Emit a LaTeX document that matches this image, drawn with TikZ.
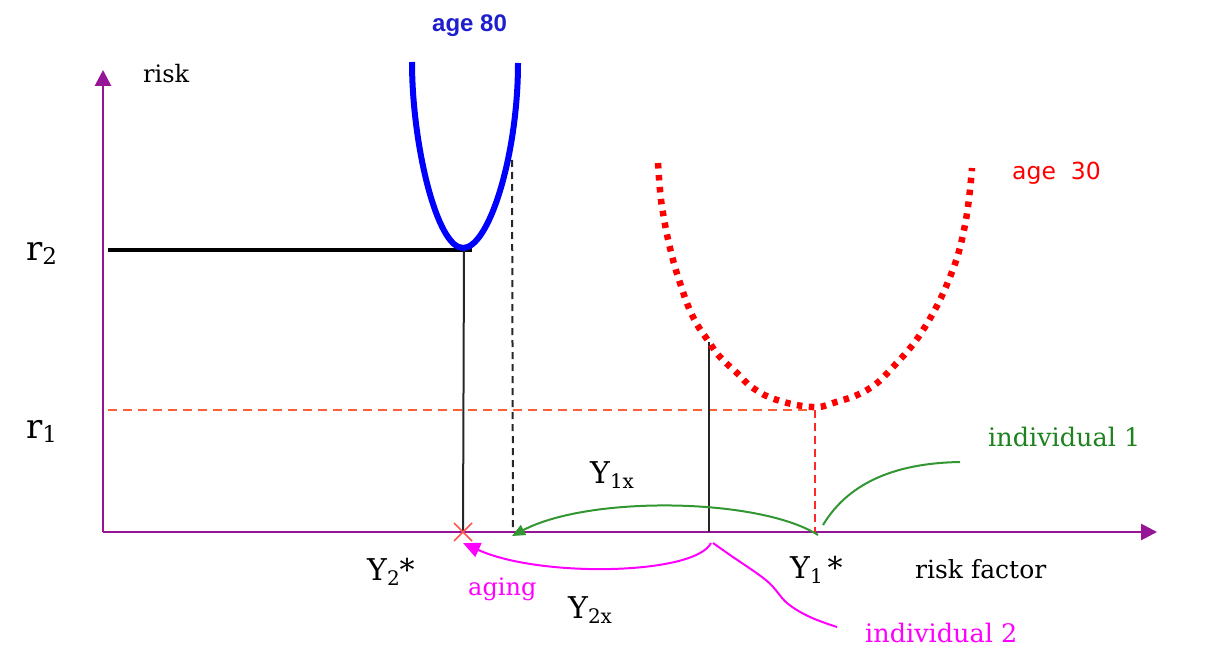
\documentclass[tikz,border=0pt]{standalone}
\usepackage{fontspec}
\setmainfont{DejaVu Serif}
\newfontfamily\labsans{Liberation Sans}
\newfontfamily\dsans{DejaVu Sans}
\usetikzlibrary{arrows.meta}
\definecolor{axispurple}{RGB}{150,20,150}
\definecolor{curveblue}{RGB}{0,0,255}
\definecolor{textblue}{RGB}{30,30,205}
\definecolor{dotred}{RGB}{255,0,0}
\definecolor{dashorange}{RGB}{255,95,55}
\definecolor{dashred}{RGB}{255,40,40}
\definecolor{arcgreen}{RGB}{50,150,50}
\definecolor{textgreen}{RGB}{30,130,30}
\definecolor{pinkmag}{RGB}{255,0,255}
\definecolor{crossred}{RGB}{255,85,80}
\tikzset{
  axisline/.style={draw=axispurple,line width=2.8pt,-{Triangle[length=16pt,width=16pt]}},
  lbl/.style={inner sep=0pt,anchor=base west},
  thinblack/.style={draw=black!85,line width=2pt},
  greenarc/.style={draw=arcgreen,line width=2pt},
  magarc/.style={draw=pinkmag,line width=2pt},
}
\begin{document}
\begin{tikzpicture}[x=1pt,y=-1pt]
\useasboundingbox (0,0) rectangle (1230,655);
% key coordinates
\coordinate (O) at (103,532);
\coordinate (ytip) at (103,70);
\coordinate (xtip) at (1157,532);
\coordinate (r2a) at (108,250);
\coordinate (r2b) at (472,250);
\coordinate (v2top) at (464,250);
\coordinate (v2bot) at (463,532);
\coordinate (dtop) at (512,160);
\coordinate (dbot) at (513,532);
\coordinate (r1a) at (108,410);
\coordinate (r1b) at (812,410);
\coordinate (v1top) at (815,410);
\coordinate (v1bot) at (815,532);
\coordinate (midtop) at (709,342);
\coordinate (midbot) at (709,532);
\coordinate (ystar1) at (818,535);
\coordinate (arrowend) at (512,536);
\coordinate (ind1s) at (823,525);
\coordinate (ind1e) at (960,462);
\coordinate (ags) at (711,543);
\coordinate (age) at (463,543);
\coordinate (bvert) at (463,248);
\coordinate (bleft) at (412,62);
\coordinate (bright) at (518,63);
% axes
\draw[axisline] (O) -- (ytip);
\draw[axisline] (O) -- (xtip);
% r2 level
\draw[black,line width=3.4pt] (r2a) -- (r2b);
\draw[thinblack] (v2top) -- (v2bot);
\draw[black!85,line width=2pt,dash pattern=on 7pt off 5pt] (dtop) -- (dbot);
% r1 level
\draw[dashorange,line width=1.8pt,dash pattern=on 9pt off 6pt] (r1a) -- (r1b);
\draw[dashred,line width=1.8pt,dash pattern=on 8pt off 5pt] (v1top) -- (v1bot);
\draw[thinblack] (midtop) -- (midbot);
% age 80 curve
\draw[curveblue,line width=6pt] (bleft) .. controls (412,145) and (437,248) .. (bvert) .. controls (489,248) and (518,155) .. (bright);
% age 30 curve
\draw[dotred,line width=6.5pt,dash pattern=on 5.5pt off 6.5pt] plot[smooth,tension=0.7] coordinates {(658,163) (660,190) (663,213) (670,248) (680,283) (693,317) (709,342) (720,357) (737,373) (753,388) (777,400) (812,407) (833,403) (867,390) (893,367) (923,330) (950,277) (965,225) (972,168)};
% red cross
\draw[crossred,line width=1.6pt] (v2bot) ++(-9,-9) -- ++(18,18) (v2bot) ++(9,-9) -- ++(-18,18);
% green arcs
\draw[greenarc,-{Triangle[length=13pt,width=11pt]}] (ystar1) .. controls (760,498) and (590,495) .. (arrowend);
\draw[greenarc] (ind1s) .. controls (850,480) and (900,463) .. (ind1e);
% magenta
\draw[magarc,-{Triangle[length=17pt,width=15pt]}] (ags) .. controls (695,575) and (540,578) .. (age);
\draw[magarc] plot[smooth,tension=0.6] coordinates {(713,543) (730,555) (767,581) (787,603) (810,617) (837,627)};
% labels
\node[lbl,font=\fontsize{24}{28}\selectfont] (trisk) at (143,83) {risk};
\node[lbl,font=\fontsize{34}{36}\selectfont] (tr2) at (26,260) {r\raisebox{-4pt}{\fontsize{23}{26}\selectfont 2}};
\node[lbl,font=\fontsize{34}{36}\selectfont] (tr1) at (26,438) {r\raisebox{-4pt}{\fontsize{23}{26}\selectfont 1}};
\node[lbl,font=\labsans\bfseries\fontsize{24}{26}\selectfont,text=textblue] (t80) at (432,32) {age 80};
\node[lbl,font=\dsans\fontsize{23.5}{26}\selectfont,text=dotred] (t30) at (1012,179) {age\ \ 30};
\node[lbl,font=\fontsize{25.5}{28}\selectfont,text=textgreen] (tind1) at (988,446) {individual 1};
\node[lbl,font=\fontsize{25.5}{28}\selectfont,text=pinkmag] (tind2) at (865,642) {individual 2};
\node[lbl,font=\fontsize{24}{28}\selectfont,text=pinkmag] (taging) at (468,595) {aging};
\node[lbl,font=\fontsize{30}{34}\selectfont] (tY2s) at (367,580) {Y\raisebox{-5pt}{\fontsize{20}{24}\selectfont 2}*};
\node[lbl,font=\fontsize{30}{34}\selectfont] (tY1s) at (790,578) {Y\raisebox{-5pt}{\fontsize{20}{24}\selectfont 1}\,*};
\node[lbl,font=\fontsize{30}{34}\selectfont] (tY1x) at (590,483) {Y\raisebox{-5pt}{\fontsize{20}{24}\selectfont 1x}};
\node[lbl,font=\fontsize{30}{34}\selectfont] (tY2x) at (568,618) {Y\raisebox{-5pt}{\fontsize{20}{24}\selectfont 2x}};
\node[lbl,font=\fontsize{25}{28}\selectfont] (trf) at (915,578) {risk factor};
\end{tikzpicture}
\end{document}
